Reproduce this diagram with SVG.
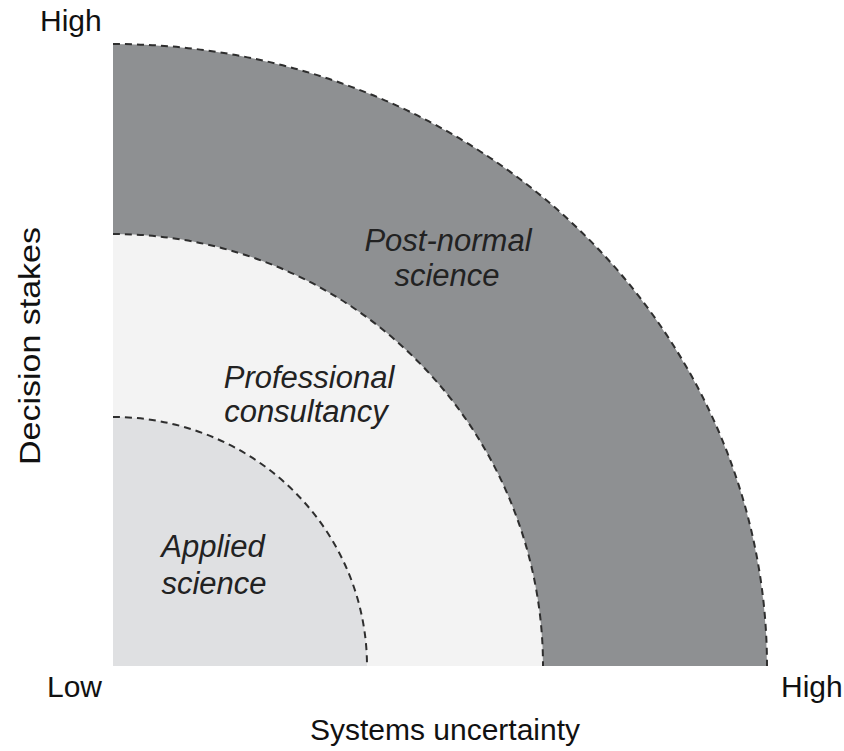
<svg xmlns="http://www.w3.org/2000/svg" width="844" height="751" viewBox="0 0 844 751">
<style>
.arc{stroke:#2e2e2e;stroke-width:2;stroke-dasharray:7,5}
.lbl{font-family:"Liberation Sans",Arial,sans-serif;font-size:31px;font-style:italic;fill:#222;text-anchor:middle}
.ax{font-family:"Liberation Sans",Arial,sans-serif;font-size:30px;fill:#111}
</style>
<rect width="844" height="751" fill="#fff"/>
<g id="post-normal">
<path d="M113,666 L113,44 A654,622 0 0 1 767,666 Z" fill="#8e9092"/>
<path class="arc" d="M113,44 A654,622 0 0 1 767,666" fill="none"/>
<text class="lbl" x="448" y="251">Post-normal</text>
<text class="lbl" x="447" y="286">science</text>
</g>
<g id="professional">
<path d="M113,666 L113,234 A430,432 0 0 1 543,666 Z" fill="#f3f3f3"/>
<path class="arc" d="M113,234 A430,432 0 0 1 543,666" fill="none"/>
<text class="lbl" x="309" y="388">Professional</text>
<text class="lbl" x="306" y="422">consultancy</text>
</g>
<g id="applied">
<path d="M113,666 L113,417 A254,249 0 0 1 367,666 Z" fill="#dfe0e2"/>
<path class="arc" d="M113,417 A254,249 0 0 1 367,666" fill="none"/>
<text class="lbl" x="213" y="557">Applied</text>
<text class="lbl" x="214" y="594">science</text>
</g>
<g id="axes">
<text class="ax" x="40" y="31">High</text>
<text class="ax" x="47" y="697">Low</text>
<text class="ax" x="781" y="697">High</text>
<text class="ax" x="445" y="740" text-anchor="middle">Systems uncertainty</text>
<text class="ax" transform="translate(40,465) rotate(-90)" textLength="238" lengthAdjust="spacingAndGlyphs" font-size="32">Decision stakes</text>
</g>
</svg>
